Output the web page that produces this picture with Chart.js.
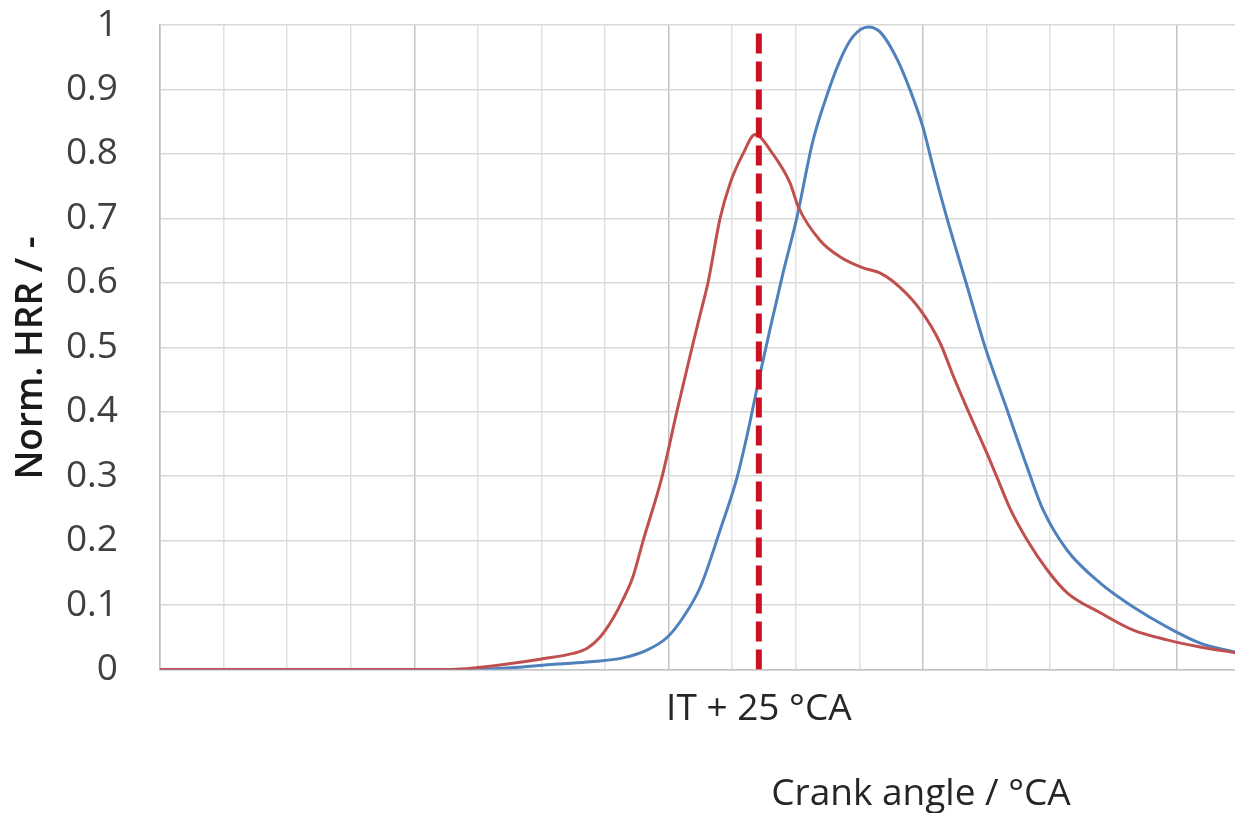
<!DOCTYPE html>
<html>
<head>
<meta charset="utf-8">
<script src="https://cdn.jsdelivr.net/npm/chart.js@4.4.1/dist/chart.umd.min.js"></script>
<style>
  html, body { margin: 0; padding: 0; background: #fff; overflow: hidden; }
  #wrap { position: relative; width: 1235px; height: 813px; }
  canvas { display: block; }
</style>
</head>
<body>
<div id="wrap"><canvas id="c" width="1235" height="813"></canvas></div>
<script>
// ---- data (x in grid units of crank angle, y normalized HRR) ----
const yTicks = [0, 0.1, 0.2, 0.3, 0.4, 0.5, 0.6, 0.7, 0.8, 0.9, 1];
const xGridSteps = [0,1,2,3,4,5,6,7,8,9,10,11,12,13,14,15,16];
const itPosition = 9.42;
const itLabel = 'IT + 25 °CA';
const xTitle = 'Crank angle / °CA';
const yTitle = 'Norm. HRR / -';

const redAngle = [0, 4.59, 5.0, 5.46, 5.98, 6.5, 6.72, 6.92, 7.13, 7.28, 7.44, 7.6, 7.9, 8.13, 8.37, 8.52, 8.62, 8.81, 8.97, 9.17, 9.36, 9.64, 9.91, 10.04, 10.38, 10.7, 11.06, 11.33, 11.64, 11.96, 12.27, 12.48, 12.74, 13.01, 13.2, 13.37, 13.64, 13.96, 14.27, 14.79, 15.31, 15.84, 16.36, 16.91];
const redHRR   = [0, 0, 0.003, 0.0085, 0.016, 0.025, 0.033, 0.05, 0.08, 0.108, 0.144, 0.2, 0.3, 0.4, 0.5, 0.56, 0.6, 0.7, 0.755, 0.8, 0.83, 0.80, 0.755, 0.718, 0.666, 0.64, 0.623, 0.615, 0.593, 0.558, 0.507, 0.455, 0.395, 0.335, 0.29, 0.25, 0.201, 0.154, 0.119, 0.088, 0.061, 0.046, 0.035, 0.026];

const blueAngle = [0, 4.8, 5.71, 6.25, 6.77, 7.28, 7.66, 7.98, 8.23, 8.5, 8.81, 9.08, 9.25, 9.42, 9.6, 9.8, 10.02, 10.26, 10.43, 10.7, 10.9, 11.14, 11.33, 11.6, 11.8, 12.0, 12.16, 12.38, 12.68, 12.98, 13.3, 13.64, 13.89, 14.27, 14.79, 15.31, 15.84, 16.36, 16.91];
const blueHRR   = [0, 0, 0.004, 0.0085, 0.012, 0.018, 0.03, 0.05, 0.081, 0.128, 0.216, 0.299, 0.37, 0.45, 0.53, 0.615, 0.702, 0.816, 0.873, 0.946, 0.982, 0.997, 0.989, 0.946, 0.899, 0.842, 0.78, 0.70, 0.60, 0.50, 0.41, 0.314, 0.248, 0.185, 0.134, 0.097, 0.066, 0.041, 0.027];

const itLineY = [0, 0.99];

const toPts = (xs, ys) => xs.map((x, i) => ({ x: x, y: ys[i] }));

const FONT = "'Open Sans', 'Noto Sans', sans-serif";

const titlesPlugin = {
  id: 'titlesPlugin',
  afterDraw(chart) {
    const ctx = chart.ctx;
    ctx.save();
    ctx.font = "37px " + FONT;
    ctx.fillStyle = '#262626';
    ctx.textAlign = 'center';
    ctx.textBaseline = 'alphabetic';
    ctx.fillText(xTitle, 921, 805);
    ctx.restore();

    ctx.save();
    ctx.translate(31, 358);
    ctx.rotate(-Math.PI / 2);
    ctx.font = "600 37px " + FONT;
    ctx.fillStyle = '#1a1a1a';
    ctx.textAlign = 'center';
    ctx.textBaseline = 'middle';
    ctx.fillText(yTitle, 0, 0);
    ctx.restore();
  }
};

new Chart(document.getElementById('c'), {
  type: 'line',
  data: {
    datasets: [
      {
        label: itLabel,
        data: toPts([itPosition, itPosition], itLineY),
        borderColor: '#cc1122',
        borderWidth: 6,
        borderDash: [20, 8],
        pointRadius: 0,
        borderCapStyle: 'butt',
        fill: false
      },
      {
        label: 'red',
        data: toPts(redAngle, redHRR),
        borderColor: '#c0504d',
        borderWidth: 3,
        pointRadius: 0,
        cubicInterpolationMode: 'monotone',
        fill: false
      },
      {
        label: 'blue',
        data: toPts(blueAngle, blueHRR),
        borderColor: '#4f81bd',
        borderWidth: 3,
        pointRadius: 0,
        cubicInterpolationMode: 'monotone',
        fill: false
      }
    ]
  },
  options: {
    responsive: false,
    animation: false,
    devicePixelRatio: 1,
    layout: { padding: { top: 25, left: 0, right: 0, bottom: 0 } },
    plugins: { legend: { display: false }, tooltip: { enabled: false } },
    scales: {
      x: {
        type: 'linear',
        min: 0,
        max: 16.91,
        afterBuildTicks: (s) => {
          const t = xGridSteps.map(v => ({ value: v }));
          t.push({ value: itPosition });
          t.sort((a, b) => a.value - b.value);
          s.ticks = t;
        },
        afterFit: (s) => { s.height = 143.5; s.paddingLeft = 0; s.paddingRight = 0; },
        grid: {
          drawTicks: false,
          lineWidth: 1.5,
          color: (c) => {
            if (!c.tick) return '#dcdcdc';
            if (c.tick.value === itPosition) return 'rgba(0,0,0,0)';
            return (c.tick.value % 4 === 0) ? '#c4c4c4' : '#e0e0e0';
          }
        },
        border: { display: true, color: '#c4c4c4', width: 1.5 },
        ticks: {
          autoSkip: false,
          maxRotation: 0,
          padding: 18,
          color: '#262626',
          font: { family: FONT, size: 37 },
          callback: (v) => (Math.abs(v - itPosition) < 1e-6 ? itLabel : '')
        }
      },
      y: {
        type: 'linear',
        min: 0,
        max: 1,
        afterBuildTicks: (s) => { s.ticks = yTicks.map(v => ({ value: v })); },
        afterFit: (s) => { s.width = 160; s.paddingTop = 0; s.paddingBottom = 0; },
        grid: { drawTicks: false, lineWidth: 1.5, color: '#d9d9d9' },
        border: { display: true, color: '#bdbdbd', width: 1.5 },
        ticks: {
          padding: 42,
          color: '#404040',
          font: { family: FONT, size: 37 },
          callback: (v) => String(Math.round(v * 10) / 10)
        }
      }
    }
  },
  plugins: [titlesPlugin]
});
</script>
</body>
</html>
